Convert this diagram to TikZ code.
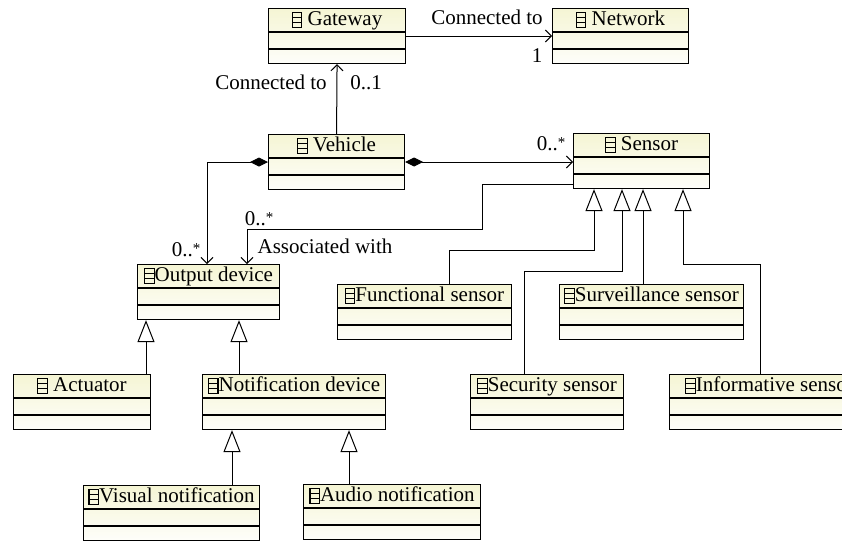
\documentclass[tikz,border=0pt]{standalone}
\usepackage{fontspec}
\setmainfont{Liberation Serif}
\usepackage{xcolor}
\usepackage{tikz}
\usetikzlibrary{arrows.meta}
\definecolor{ClassTop}{RGB}{245,245,212}
\definecolor{ClassBottom}{RGB}{254,254,250}
\newcommand{\clsicon}{\tikz[baseline=0pt,line width=1.1pt]{\draw (0pt,-2.5pt) rectangle (9.5pt,12.5pt); \draw (0pt,2.5pt) -- (9.5pt,2.5pt) (0pt,7.5pt) -- (9.5pt,7.5pt);}}
\newcommand{\many}{0..\raisebox{3pt}{\fontsize{15}{15}\selectfont *}}
\tikzset{
    umlclass/.style={draw=black, line width=1.1pt, top color=ClassTop, bottom color=ClassBottom, anchor=north west, minimum height=55pt, inner sep=0pt},
    classname/.style={anchor=north, inner sep=0pt, text height=17pt, text depth=5pt, font=\fontsize{21}{25}\selectfont},
    lbl/.style={anchor=base, inner sep=0pt, font=\fontsize{21}{25}\selectfont},
    assoc/.style={line width=1pt, -{Straight Barb[length=6pt,width=12pt]}},
    comp/.style={line width=1pt, {Diamond[length=18pt,width=9pt]}-{Straight Barb[length=6pt,width=12pt]}},
    gen/.style={line width=1pt, -{Triangle[length=22pt,width=17pt,fill=white]}}
}
\begin{document}
\begin{tikzpicture}[x=1pt, y=-1pt]
    \useasboundingbox (0,0) rectangle (842,541);
    \clip (0,0) rectangle (842,541);

    % classes
    \node[umlclass, minimum width=137pt, label={[classname]north:\clsicon\ Gateway}] (gateway) at (268,8) {};
    \node[umlclass, minimum width=136pt, label={[classname]north:\clsicon\ Network}] (network) at (552,8) {};
    \node[umlclass, minimum width=136pt, label={[classname]north:\clsicon\ Vehicle}] (vehicle) at (268,134) {};
    \node[umlclass, minimum width=136pt, label={[classname]north:\clsicon\ Sensor}] (sensor) at (573,133) {};
    \node[umlclass, minimum width=142pt, label={[classname]north:\clsicon Output device}] (outdev) at (137,264) {};
    \node[umlclass, minimum width=137pt, label={[classname]north:\clsicon\ Actuator}] (actuator) at (13,374) {};
    \node[umlclass, minimum width=183pt, label={[classname]north:\clsicon Notification device}] (notif) at (202,374) {};
    \node[umlclass, minimum width=176pt, label={[classname]north:\clsicon Visual notification}] (visual) at (83,485) {};
    \node[umlclass, minimum width=177pt, label={[classname]north:\clsicon Audio notification}] (audio) at (303,484) {};
    \node[umlclass, minimum width=174pt, label={[classname]north:\clsicon Functional sensor}] (func) at (337,284) {};
    \node[umlclass, minimum width=184pt, label={[classname]north:\clsicon Surveillance sensor}] (surv) at (559,284) {};
    \node[umlclass, minimum width=153pt, label={[classname]north:\clsicon Security sensor}] (secur) at (470,374) {};
    \node[umlclass, minimum width=200pt, label={[classname]north:\clsicon Informative sensor}] (inform) at (669,374) {};

    % compartments
    \foreach \c in {gateway,network,vehicle,sensor,outdev,actuator,notif,visual,audio,func,surv,secur,inform}
        \draw[line width=1.1pt] ([yshift=-24pt]\c.north west) -- ([yshift=-24pt]\c.north east)
            ([yshift=-41pt]\c.north west) -- ([yshift=-41pt]\c.north east);

    % associations
    \coordinate (gwrow) at ([yshift=-28pt]gateway.north east);
    \coordinate (vhrow) at ([yshift=-28pt]vehicle.north east);
    \draw[assoc] (gwrow) -- (gwrow -| network.west);
    \draw[assoc] (vehicle.north) -- (gateway.south);
    \draw[comp] (vhrow) -- (vhrow -| sensor.west);
    \draw[comp] ([yshift=-28pt]vehicle.north west) -| ([xshift=70pt]outdev.north west);
    \draw[assoc] ([yshift=-51pt]sensor.north west) -- ++(-91,0) |- ([xshift=110pt,yshift=35pt]outdev.north west) -- ([xshift=110pt]outdev.north west);

    % generalizations
    \draw[gen] ([xshift=112pt]func.north west) -- ++(0,-34) -| ([xshift=21pt]sensor.south west);
    \draw[gen] ([xshift=54pt]secur.north west) -- ++(0,-103) -| ([xshift=49pt]sensor.south west);
    \draw[gen] ([xshift=84pt]surv.north west) -- ([xshift=70pt]sensor.south west);
    \draw[gen] ([xshift=91pt]inform.north west) -- ++(0,-110) -| ([xshift=110pt]sensor.south west);
    \draw[gen] ([xshift=133pt]actuator.north west) -- ([xshift=9pt]outdev.south west);
    \draw[gen] ([xshift=37pt]notif.north west) -- ([xshift=102pt]outdev.south west);
    \draw[gen] ([xshift=149pt]visual.north west) -- ([xshift=30pt]notif.south west);
    \draw[gen] ([xshift=46pt]audio.north west) -- ([xshift=147pt]notif.south west);

    % role names and multiplicities
    \node[lbl] (gwlink) at (487,24) {Connected to};
    \node[lbl] (netmult) at (537,62) {1};
    \node[lbl] (vhlink) at (271,89) {Connected to};
    \node[lbl] (gwmult) at (366,89) {0..1};
    \node[lbl] (snmult) at (551,150) {\many};
    \node[lbl] (odmult) at (186,256) {\many};
    \node[lbl] (asmult) at (259,225) {\many};
    \node[lbl] (aslink) at (325,253) {Associated with};
\end{tikzpicture}
\end{document}
